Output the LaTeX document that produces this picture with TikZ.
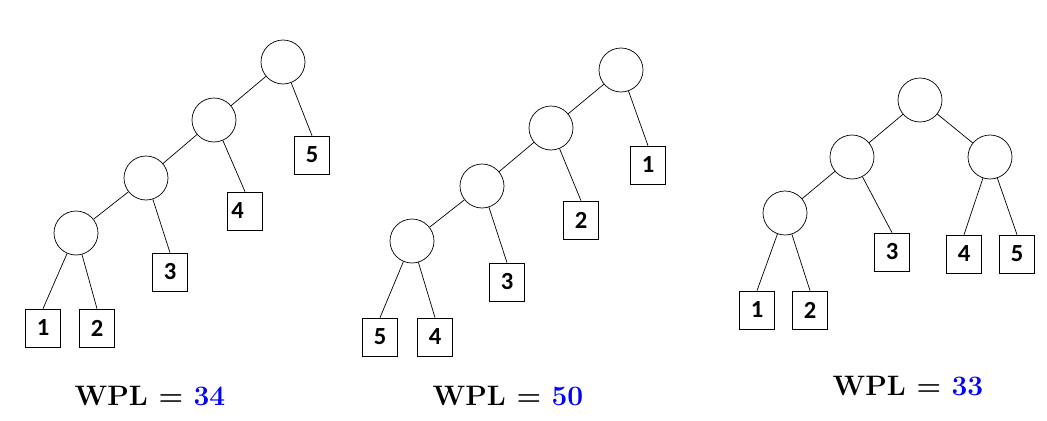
\documentclass[tikz,border=0pt]{standalone}
\usepackage{fontspec}
\newfontfamily\boxfont{Carlito}
\begin{document}
\begin{tikzpicture}[x=0.02cm,y=-0.02cm,
  c/.style={circle,draw,minimum size=0.88cm,inner sep=0pt},
  s/.style={draw,minimum width=0.7cm,minimum height=0.76cm,inner sep=0pt,font=\boxfont\bfseries\fontsize{14}{14}\selectfont},
  w/.style={font=\bfseries\fontsize{16}{16}\selectfont}]
\useasboundingbox (0,0) rectangle (1047,420);
% tree 1
\node[c] (a0) at (283,62) {};
\node[c] (a1) at (214,120) {};
\node[c] (a2) at (146,178) {};
\node[c] (a3) at (76,233) {};
\node[s] (a5) at (312,155) {5};
\node[s] (a4) at (245,211) {\hspace*{-0.3cm}4};
\node[s] (aT) at (170,272) {3};
\node[s] (aA) at (43,328) {1};
\node[s] (aB) at (97,328) {2};
\draw (a0)--(a1) (a1)--(a2) (a2)--(a3) (a0)--(a5.north) (a1)--(a4.north) (a2)--(aT.north) (a3)--(aA.north) (a3)--(aB.north);
\node[w] (wa) at (150,396) {WPL = \textcolor{blue}{34}};
% tree 2
\node[c] (b0) at (621,70) {};
\node[c] (b1) at (551,128) {};
\node[c] (b2) at (482,186) {};
\node[c] (b3) at (412,241) {};
\node[s] (bA) at (648,165) {1};
\node[s] (bB) at (581,220) {2};
\node[s] (bT) at (507,282) {3};
\node[s] (b5) at (380,337) {5};
\node[s] (b4) at (435,337) {4};
\draw (b0)--(b1) (b1)--(b2) (b2)--(b3) (b0)--(bA.north) (b1)--(bB.north) (b2)--(bT.north) (b3)--(b5.north) (b3)--(b4.north);
\node[w] (wb) at (508,396) {WPL = \textcolor{blue}{50}};
% tree 3
\node[c] (c0) at (920,100) {};
\node[c] (cL) at (852,157) {};
\node[c] (cR) at (990,157) {};
\node[c] (cLL) at (785,213) {};
\node[s] (cT) at (892,252) {3};
\node[s] (c4) at (964,254) {4};
\node[s] (c5) at (1017,254) {5};
\node[s] (cA) at (757,310) {1};
\node[s] (cB) at (810,310) {2};
\draw (c0)--(cL) (c0)--(cR) (cL)--(cLL) (cL)--(cT.north) (cR)--(c4.north) (cR)--(c5.north) (cLL)--(cA.north) (cLL)--(cB.north);
\node[w] (wc) at (908,386) {WPL = \textcolor{blue}{33}};
\end{tikzpicture}
\end{document}
